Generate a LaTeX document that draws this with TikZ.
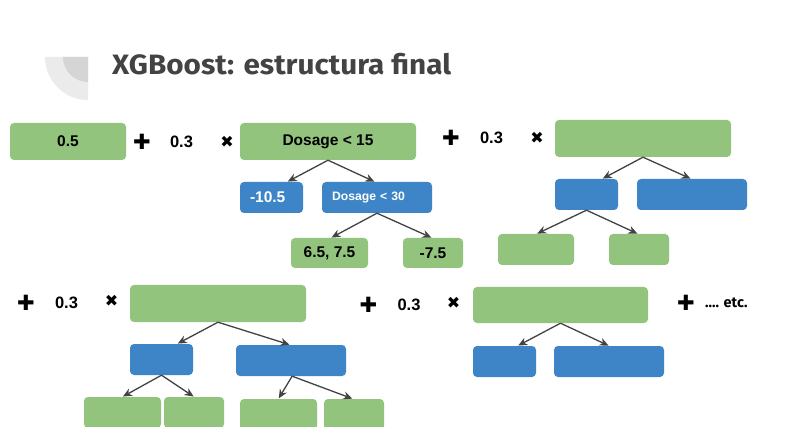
\documentclass[tikz,border=0pt]{standalone}
\usepackage{fontspec}
\setmainfont{Liberation Sans}
\newfontfamily\titlefont{Fira Sans}
\newfontfamily\symfont{DejaVu Sans}
\usetikzlibrary{arrows.meta,calc}
\definecolor{gfill}{HTML}{93C47D}
\definecolor{bfill}{HTML}{3D85C6}
\definecolor{arrcol}{HTML}{434343}
\definecolor{titlecol}{HTML}{434343}
\definecolor{decoA}{HTML}{EBEBEB}
\definecolor{decoB}{HTML}{D5D5D5}
\tikzset{
  box/.style={rounded corners=4pt, inner sep=0pt, font=\bfseries\fontsize{15.5}{18}\selectfont},
  gbox/.style={box, fill=gfill, text=black},
  bbox/.style={box, fill=bfill, text=white},
  lbox/.style={bbox, align=left, inner xsep=10pt},
  arr/.style={draw=arrcol, line width=1.3pt, -{Stealth[length=9pt,width=8pt]}, shorten >=0.5pt},
  plussym/.style={inner sep=0pt, font=\symfont\fontsize{21}{21}\selectfont},
  timessym/.style={inner sep=0pt, font=\symfont\fontsize{16}{16}\selectfont},
  coef/.style={inner sep=0pt, font=\bfseries\fontsize{16.5}{18}\selectfont},
}
\begin{document}
\begin{tikzpicture}[x=1pt,y=-1pt]
\clip (0,0) rectangle (789,427);
\fill[white] (0,0) rectangle (789,427);
% decoration
\fill[decoA] (88,57) -- (45,57) arc[start angle=180,end angle=270,radius=43pt] -- cycle;
\fill[decoB] (88,57) -- (63,57) arc[start angle=180,end angle=270,radius=25pt] -- cycle;
\node[anchor=base west, inner sep=0pt, text=titlecol, font=\titlefont\bfseries\fontsize{28}{30}\selectfont] (title) at (112,75) {\scalebox{1.06}[1]{XGBoost: estructura final}};

% row 1
\node[gbox, minimum width=116pt, minimum height=37pt] (n05) at (68,141.5) {0.5};
\node[plussym] (p1) at (142,142) {✚};
\node[coef] (c1) at (181.5,142) {0.3};
\node[timessym] (x1) at (227,142) {✖};
\node[gbox, minimum width=176pt, minimum height=37pt] (d15) at (328,141.5) {Dosage < 15};
\node[lbox, text width=43pt, minimum height=31pt] (m105) at (271.5,197.5) {-10.5};
\node[lbox, text width=90pt, minimum height=31pt, font=\bfseries\fontsize{12.2}{14}\selectfont] (d30) at (377,197.5) {Dosage < 30};
\node[gbox, minimum width=77pt, minimum height=30pt] (l65) at (329.5,253) {6.5, 7.5};
\node[gbox, minimum width=60pt, minimum height=30pt] (l75) at (433,253) {-7.5};
\draw[arr] (d15.south) -- ($(m105.north west)!0.75!(m105.north east)$);
\draw[arr] (d15.south) -- ($(d30.north west)!0.48!(d30.north east)$);
\draw[arr] (d30.south) -- ($(l65.north west)!0.52!(l65.north east)$);
\draw[arr] (d30.south) -- ($(l75.north west)!0.48!(l75.north east)$);

% tree 2
\node[plussym] (p2) at (451,138) {✚};
\node[coef] (c2) at (491.5,138) {0.3};
\node[timessym] (x2) at (537,138) {✖};
\node[gbox, minimum width=176pt, minimum height=37pt] (r2) at (643,138.5) {};
\node[bbox, minimum width=63pt, minimum height=31pt] (b2l) at (586.5,194.5) {};
\node[bbox, minimum width=110pt, minimum height=31pt] (b2r) at (692,194.5) {};
\node[gbox, minimum width=76pt, minimum height=31pt] (g2l) at (536,249.5) {};
\node[gbox, minimum width=60pt, minimum height=31pt] (g2r) at (639,249.5) {};
\draw[arr] (r2.south) -- ($(b2l.north west)!0.75!(b2l.north east)$);
\draw[arr] (r2.south) -- ($(b2r.north west)!0.49!(b2r.north east)$);
\draw[arr] (b2l.south) -- ($(g2l.north west)!0.51!(g2l.north east)$);
\draw[arr] (b2l.south) -- ($(g2r.north west)!0.48!(g2r.north east)$);

% tree 3
\node[plussym] (p3) at (26,303) {✚};
\node[coef] (c3) at (66.5,303) {0.3};
\node[timessym] (x3) at (111.5,301) {✖};
\node[gbox, minimum width=176pt, minimum height=37pt] (r3) at (218,303.5) {};
\node[bbox, minimum width=63pt, minimum height=31pt] (b3l) at (161.5,359.5) {};
\node[bbox, minimum width=110pt, minimum height=31pt] (b3r) at (291,360.5) {};
\node[gbox, minimum width=77pt, minimum height=31pt] (g3a) at (122.5,412.5) {};
\node[gbox, minimum width=60pt, minimum height=31pt] (g3b) at (194,412.5) {};
\node[gbox, minimum width=77pt, minimum height=31pt] (g3c) at (278.5,414.5) {};
\node[gbox, minimum width=60pt, minimum height=31pt] (g3d) at (354,414.5) {};
\draw[arr] (r3.south) -- ($(b3l.north west)!0.75!(b3l.north east)$);
\draw[arr] (r3.south) -- ($(b3r.north west)!0.49!(b3r.north east)$);
\draw[arr] (b3l.south) -- (g3a.north);
\draw[arr] (b3l.south) -- (g3b.north);
\draw[arr] ($(b3r.south west)!0.51!(b3r.south east)$) -- (g3c.north);
\draw[arr] ($(b3r.south west)!0.51!(b3r.south east)$) -- ($(g3d.north west)!0.48!(g3d.north east)$);

% tree 4
\node[plussym] (p4) at (368.5,305) {✚};
\node[coef] (c4) at (409,305) {0.3};
\node[timessym] (x4) at (453.5,303) {✖};
\node[gbox, minimum width=175pt, minimum height=36pt] (r4) at (560.5,305) {};
\node[bbox, minimum width=63pt, minimum height=31pt] (b4l) at (504.5,361.5) {};
\node[bbox, minimum width=110pt, minimum height=31pt] (b4r) at (609,361.5) {};
\draw[arr] (r4.south) -- ($(b4l.north west)!0.71!(b4l.north east)$);
\draw[arr] (r4.south) -- ($(b4r.north west)!0.5!(b4r.north east)$);

\node[plussym] (p5) at (686,303) {✚};
\node[anchor=west, inner sep=0pt, font=\titlefont\bfseries\fontsize{14.5}{16}\selectfont] (etc) at (705,303) {.... etc.};
\end{tikzpicture}
\end{document}
